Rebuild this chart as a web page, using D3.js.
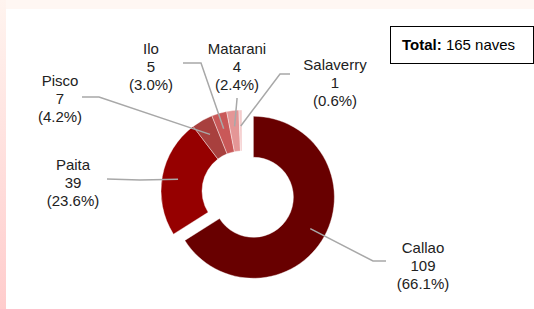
<!DOCTYPE html>
<html>
<head>
<meta charset="utf-8">
<script src="https://cdn.jsdelivr.net/npm/d3@7"></script>
<style>
  body { margin: 0; background: #fff; }
  text { font-family: "Liberation Sans", Arial, sans-serif; }
</style>
</head>
<body>
<script>
var ports   = ["Callao", "Paita", "Pisco", "Ilo", "Matarani", "Salaverry"];
var naves   = [109, 39, 7, 5, 4, 1];
var colours = ["#680000", "#960000", "#a8403e", "#c95858", "#e49696", "#f4cccc"];
var total   = 165;

// label placement: centre x, first baseline y, then leader elbow and end
var labelPos = [
  { x: 423, y: 253, elbow: [373, 261], end: [386, 261] },
  { x: 73,  y: 170, elbow: [140, 180], end: [107, 179] },
  { x: 60,  y: 86,  elbow: [99, 97],   end: [82, 97] },
  { x: 151, y: 54,  elbow: [201, 63],  end: [183, 63] },
  { x: 237, y: 54,  elbow: [237, 99],  end: [237, 98] },
  { x: 335, y: 70,  elbow: [280, 74],  end: [290, 74] }
];

var width = 534, height = 309;
var cx = 242, cy = 191, rOuter = 81, rInner = 40, explode = 13;

var svg = d3.select("body").append("svg")
    .attr("width", width).attr("height", height);

var defs = svg.append("defs");
var grad = defs.append("linearGradient").attr("id", "edge")
    .attr("x1", 0).attr("y1", 0).attr("x2", 0).attr("y2", 1);
grad.append("stop").attr("offset", "0%").attr("stop-color", "#fff4ef");
grad.append("stop").attr("offset", "100%").attr("stop-color", "#ffcccc");

svg.append("rect").attr("width", width).attr("height", height).attr("fill", "#fff7f3");
svg.append("rect").attr("x", 0).attr("y", 0).attr("width", 6).attr("height", height)
    .attr("fill", "url(#edge)");
svg.append("rect").attr("x", 6).attr("y", 9).attr("width", width - 6).attr("height", height - 9)
    .attr("fill", "#ffffff");

var data = ports.map(function(p, i) { return { port: p, value: naves[i], colour: colours[i] }; });

var pie = d3.pie().sort(null).value(function(d) { return d.value; });
var arcs = pie(data);

var arc = d3.arc().innerRadius(rInner).outerRadius(rOuter);
var leaderArc = d3.arc().innerRadius(65).outerRadius(65);

function offset(d, i) {
  if (i !== 0) return [0, 0];
  var a = (d.startAngle + d.endAngle) / 2;
  return [Math.sin(a) * explode, -Math.cos(a) * explode];
}

var g = svg.append("g").attr("transform", "translate(" + cx + "," + cy + ")");

g.selectAll("path.slice")
  .data(arcs)
  .enter().append("path")
    .attr("class", "slice")
    .attr("d", arc)
    .attr("transform", function(d, i) { var o = offset(d, i); return "translate(" + o[0] + "," + o[1] + ")"; })
    .attr("fill", function(d) { return d.data.colour; })
    .attr("stroke", "#ffffff")
    .attr("stroke-width", 0.4);

// leader lines
svg.selectAll("polyline.leader")
  .data(arcs)
  .enter().append("polyline")
    .attr("class", "leader")
    .attr("points", function(d, i) {
      var c = leaderArc.centroid(d), o = offset(d, i);
      var p0 = [cx + c[0] + o[0], cy + c[1] + o[1]];
      var lp = labelPos[i];
      return [p0, lp.elbow, lp.end].map(function(p) { return p.join(","); }).join(" ");
    })
    .attr("fill", "none")
    .attr("stroke", "#a8a8a8")
    .attr("stroke-width", 1.5);

// labels
var lab = svg.selectAll("text.label")
  .data(arcs)
  .enter().append("text")
    .attr("class", "label")
    .attr("text-anchor", "middle")
    .attr("font-size", 15)
    .attr("fill", "#222");

lab.each(function(d, i) {
  var t = d3.select(this), lp = labelPos[i];
  var lines = [d.data.port, String(d.data.value), "(" + (d.data.value / total * 100).toFixed(1) + "%)"];
  lines.forEach(function(s, k) {
    t.append("tspan").attr("x", lp.x).attr("y", lp.y + k * 18).text(s);
  });
});

// total box
svg.append("rect")
    .attr("x", 390.5).attr("y", 26.5).attr("width", 143).attr("height", 37)
    .attr("fill", "#fff").attr("stroke", "#000").attr("stroke-width", 1);

var tt = svg.append("text").attr("x", 402).attr("y", 50).attr("font-size", 15).attr("fill", "#000");
tt.append("tspan").attr("font-weight", "bold").text("Total:");
tt.append("tspan").text(" " + total + " naves");
</script>
</body>
</html>
